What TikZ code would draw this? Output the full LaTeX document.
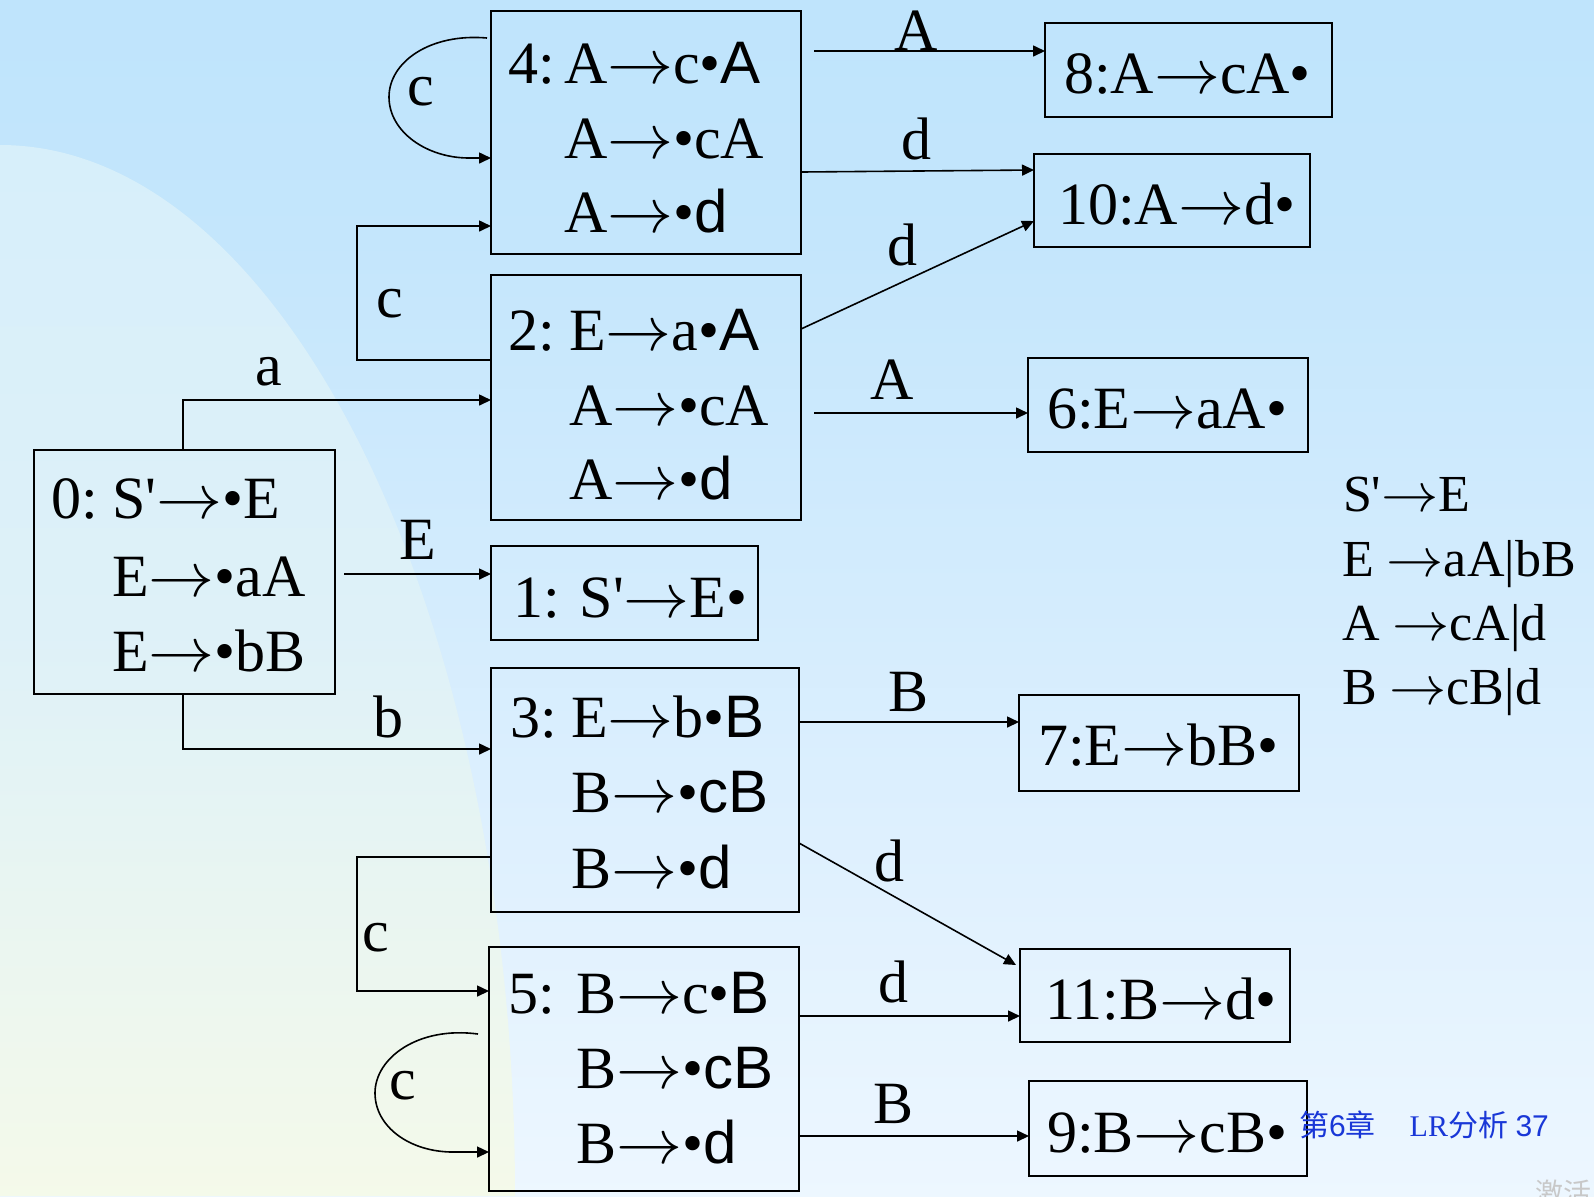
\documentclass[tikz,border=0pt]{standalone}
\usepackage{fix-cm}
\usepackage{graphicx}
\usepackage{fontspec}
\setmainfont{Liberation Serif}
\newfontfamily\tm{Liberation Serif}
\newfontfamily\ar{Liberation Sans}
\newfontfamily\cjk{Noto Sans CJK SC}
\usetikzlibrary{arrows.meta}
\newcommand\rarr{\scalebox{1.1}[1.05]{\ensuremath{\rightarrow}}}
\definecolor{bgA}{RGB}{252,253,255}
\definecolor{bgB}{RGB}{242,249,255}
\definecolor{bgC}{RGB}{222,240,254}
\definecolor{bgD}{RGB}{196,230,252}
\definecolor{bgE}{RGB}{178,223,252}
\definecolor{blA}{RGB}{255,255,228}
\definecolor{blB}{RGB}{250,252,230}
\definecolor{blC}{RGB}{238,247,238}
\definecolor{blD}{RGB}{222,241,248}
\definecolor{blE}{RGB}{207,236,253}
\definecolor{footblue}{RGB}{25,55,215}
\definecolor{wmgray}{RGB}{200,200,200}
\pgfdeclareverticalshading{bgsh}{100bp}{color(0bp)=(bgA); color(20bp)=(bgB); color(40bp)=(bgC); color(65bp)=(bgD); color(100bp)=(bgE)}
\pgfdeclareverticalshading{blobsh}{100bp}{color(0bp)=(blA); color(18bp)=(blB); color(33bp)=(blC); color(52bp)=(blD); color(100bp)=(blE)}
\newcommand\mkbox[5]{\node[statebox, minimum width={(#4-#2)*0.5pt}, minimum height={(#5-#3)*0.5pt}] (#1) at ({(#2+#4)/2},{(#3+#5)/2}) {};}
\tikzset{
  statebox/.style={draw, rectangle, line width=1.4pt, inner sep=0pt, outer sep=0pt},
  txt/.style={anchor=base west, inner sep=0pt, outer sep=0pt, font=\tm\fontsize{30}{30}\selectfont},
  txts/.style={anchor=base west, inner sep=0pt, outer sep=0pt, font=\tm\fontsize{30}{30}\selectfont},
  lab/.style={anchor=base, inner sep=0pt, outer sep=0pt, font=\tm\fontsize{30}{30}\selectfont},
  gram/.style={anchor=base west, inner sep=0pt, outer sep=0pt, font=\tm\fontsize{26}{26}\selectfont},
  arr/.style={-{Triangle[length=6pt,width=5.5pt]}, line width=0.8pt},
  foot/.style={anchor=base west, inner sep=0pt, outer sep=0pt, text=footblue, font=\tm\fontsize{15}{15}\selectfont},
  wm/.style={anchor=base west, inner sep=0pt, outer sep=0pt, text=wmgray, font=\cjk\fontsize{14}{14}\selectfont}
}
\begin{document}
\begin{tikzpicture}[x=0.5pt,y=-0.5pt]
\useasboundingbox (0,0) rectangle (1594,1196);
\shade[shading=bgsh] (0,0) rectangle (1594,1196);
\shade[shading=blobsh] (0,145) arc[start angle=-90, end angle=0, x radius=515, y radius=1051] -- (0,1196) -- cycle;

% boxes
\mkbox{b0}{34}{450}{335}{694}
\mkbox{b1}{491}{546}{758}{640}
\mkbox{b2}{491}{275}{801}{520}
\mkbox{b3}{491}{668}{799}{912}
\mkbox{b4}{491}{11}{801}{254}
\mkbox{b5}{489}{947}{799}{1191}
\mkbox{b6}{1028}{358}{1308}{452}
\mkbox{b7}{1019}{695}{1299}{791}
\mkbox{b8}{1045}{23}{1332}{117}
\mkbox{b9}{1029}{1081}{1307}{1176}
\mkbox{b10}{1034}{154}{1310}{247}
\mkbox{b11}{1020}{949}{1290}{1042}

% box texts
\node[txt] (t4n) at (508,83) {4:};
\node[txt] (t4a) at (564,83) {A\rarr c•{\ar A}};
\node[txt] (t4b) at (564,158) {A\rarr •cA};
\node[txt] (t4c) at (564,232) {A\rarr •{\ar d}};

\node[txt] (t2n) at (508,350) {2:};
\node[txt] (t2a) at (569,350) {E\rarr a•{\ar A}};
\node[txt] (t2b) at (569,425) {A\rarr •cA};
\node[txt] (t2c) at (569,499) {A\rarr •{\ar d}};

\node[txt] (t0n) at (51,518) {0:};
\node[txt] (t0a) at (112,518) {S'\rarr •E};
\node[txt] (t0b) at (112,596) {E\rarr •aA};
\node[txt] (t0c) at (112,671) {E\rarr •bB};

\node[txt] (t3n) at (510,737) {3:};
\node[txt] (t3a) at (571,737) {E\rarr b•{\ar B}};
\node[txt] (t3b) at (571,812) {B\rarr •{\ar cB}};
\node[txt] (t3c) at (571,888) {B\rarr •{\ar d}};

\node[txt] (t5n) at (508,1013) {5:};
\node[txt] (t5a) at (576,1013) {B\rarr c•{\ar B}};
\node[txt] (t5b) at (576,1088) {B\rarr •{\ar cB}};
\node[txt] (t5c) at (576,1163) {B\rarr •{\ar d}};

\node[txts] (t1) at (513,617) {1: S'\rarr E•};
\node[txts] (t6) at (1047,428) {6:E\rarr aA•};
\node[txts] (t7) at (1038,765) {7:E\rarr bB•};
\node[txts] (t8) at (1064,93) {8:A\rarr cA•};
\node[txts] (t9) at (1047,1152) {9:B\rarr cB•};
\node[txts] (t10) at (1058,224) {10:A\rarr d•};
\node[txts] (t11) at (1045,1019) {11:B\rarr d•};

% grammar
\node[gram] (g1) at (1343,511) {S'\rarr E};
\node[gram] (g2) at (1342,576) {E \rarr aA|bB};
\node[gram] (g3) at (1342,640) {A \rarr cA|d};
\node[gram] (g4) at (1342,704) {B \rarr cB|d};

% helper coordinates
\coordinate (ka) at (183,400);
\coordinate (ke) at (344,574);
\coordinate (kb) at (183,749);
\coordinate (kc1) at (357,360);
\coordinate (kc2) at (357,226);
\coordinate (kd1) at (357,857);
\coordinate (kd2) at (357,991);
\coordinate (l4s) at (487,38);
\coordinate (l4m) at (469,158);
\coordinate (l5s) at (478,1034);
\coordinate (l5m) at (453,1152);
\coordinate (kA8) at (814,51);
\coordinate (kA6) at (814,413);
\coordinate (k11) at (1016,965);

% connectors
\draw[arr] (b0.north -| ka) |- (b2.west |- ka);
\draw[arr] (ke) -- (b1.west |- ke);
\draw[arr] (b0.south -| kb) |- (b3.west |- kb);
\draw[arr] (b2.west |- kc1) -- (kc1) |- (b4.west |- kc2);
\draw[arr] (b3.west |- kd1) -- (kd1) |- (b5.west |- kd2);
\draw[arr] (l4s) .. controls (430,33) and (389,62) .. (389,97) .. controls (389,132) and (427,158) .. (l4m) -- (b4.west |- l4m);
\draw[arr] (l5s) .. controls (418,1026) and (375,1058) .. (375,1093) .. controls (375,1127) and (410,1152) .. (l5m) -- (b5.west |- l5m);
\draw[arr] (kA8) -- (b8.west |- kA8);
\draw[arr] (b4.east |- 0,172) -- (b10.west |- 0,170);
\draw[arr] (b2.east |- 0,329) -- (b10.west |- 0,221);
\draw[arr] (kA6) -- (b6.west |- kA6);
\draw[arr] (b3.east |- 0,722) -- (b7.west |- 0,722);
\draw[arr] (b3.east |- 0,843) -- (k11);
\draw[arr] (b5.east |- 0,1016) -- (b11.west |- 0,1016);
\draw[arr] (b5.east |- 0,1136) -- (b9.west |- 0,1136);

% edge labels
\node[lab] (la) at (269,385) {a};
\node[lab] (lc1) at (390,317) {c};
\node[lab] (lc2) at (421,105) {c};
\node[lab] (lE) at (418,559) {E};
\node[lab] (lb) at (388,737) {b};
\node[lab] (lc3) at (376,951) {c};
\node[lab] (lc4) at (403,1099) {c};
\node[lab] (lA1) at (916,50) {A};
\node[lab] (ld1) at (916,159) {d};
\node[lab] (ld2) at (902,265) {d};
\node[lab] (lA2) at (892,399) {A};
\node[lab] (lB1) at (908,711) {B};
\node[lab] (ld3) at (889,881) {d};
\node[lab] (ld4) at (893,1002) {d};
\node[lab] (lB2) at (893,1123) {B};

% footer
\node[foot] (ft) at (1299,1136) {{\cjk 第}{\ar 6}{\cjk 章}\hspace{17pt}LR{\cjk 分析} {\ar 37}};
\node[wm] (wmk) at (1535,1203) {激活};
\end{tikzpicture}
\end{document}
